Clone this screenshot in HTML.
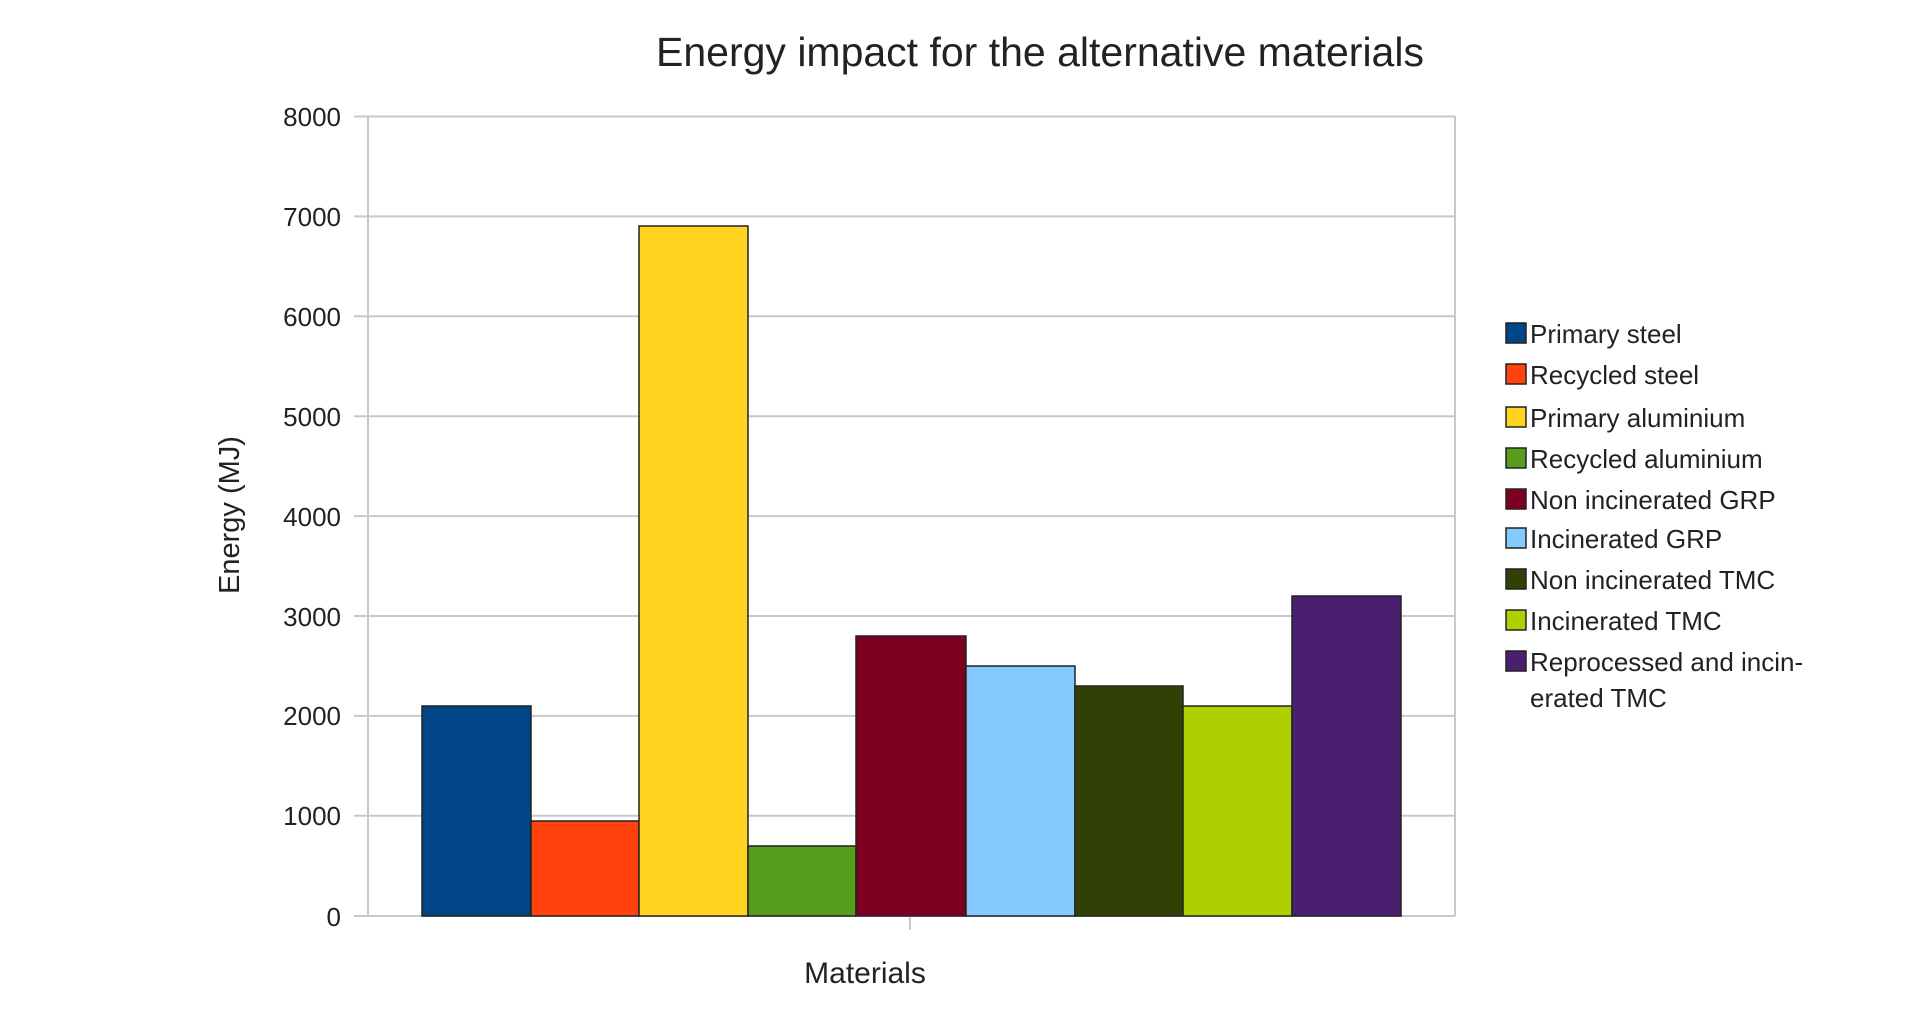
<!DOCTYPE html>
<html><head><style>body{margin:0;background:#fff}</style></head><body>
<svg width="1922" height="1028" xmlns="http://www.w3.org/2000/svg" font-family="Liberation Sans, sans-serif">
<rect width="1922" height="1028" fill="#fff"/>
<text x="1040" y="66" font-size="41" text-anchor="middle" fill="#222">Energy impact for the alternative materials</text>
<g stroke="#c8c8c8" stroke-width="2">
<line x1="354" y1="116.5" x2="1455" y2="116.5"/><line x1="354" y1="216.4" x2="1455" y2="216.4"/>
<line x1="354" y1="316.3" x2="1455" y2="316.3"/><line x1="354" y1="416.2" x2="1455" y2="416.2"/>
<line x1="354" y1="516.1" x2="1455" y2="516.1"/><line x1="354" y1="616" x2="1455" y2="616"/>
<line x1="354" y1="715.9" x2="1455" y2="715.9"/><line x1="354" y1="815.8" x2="1455" y2="815.8"/>
<line x1="354" y1="916" x2="1455" y2="916"/>
<line x1="368" y1="116" x2="368" y2="916"/><line x1="1455" y1="116" x2="1455" y2="916"/>
<line x1="910" y1="916" x2="910" y2="930"/>
</g>
<g font-size="26" fill="#222" text-anchor="end">
<text x="341" y="126">8000</text><text x="341" y="226">7000</text><text x="341" y="326">6000</text>
<text x="341" y="426">5000</text><text x="341" y="526">4000</text><text x="341" y="626">3000</text>
<text x="341" y="725">2000</text><text x="341" y="825">1000</text><text x="341" y="926">0</text>
</g>
<g stroke="#222" stroke-width="1.5">
<rect x="422" y="706" width="109" height="210" fill="#004586"/>
<rect x="531" y="821" width="108" height="95" fill="#ff420e"/>
<rect x="639" y="226" width="109" height="690" fill="#ffd320"/>
<rect x="748" y="846" width="108" height="70" fill="#579d1c"/>
<rect x="856" y="636" width="110" height="280" fill="#7e0021"/>
<rect x="966" y="666" width="109" height="250" fill="#83caff"/>
<rect x="1075" y="686" width="108" height="230" fill="#314004"/>
<rect x="1183" y="706" width="109" height="210" fill="#aecf00"/>
<rect x="1292" y="596" width="109" height="320" fill="#4b1f6f"/>
</g>
<text x="865" y="983" font-size="30" text-anchor="middle" fill="#222">Materials</text>
<text transform="translate(239,515) rotate(-90)" font-size="29" text-anchor="middle" fill="#222">Energy (MJ)</text>
<g stroke="#222" stroke-width="1.5">
<rect x="1506" y="323" width="20" height="20" fill="#004586"/>
<rect x="1506" y="364" width="20" height="20" fill="#ff420e"/>
<rect x="1506" y="407" width="20" height="20" fill="#ffd320"/>
<rect x="1506" y="448" width="20" height="20" fill="#579d1c"/>
<rect x="1506" y="489" width="20" height="20" fill="#7e0021"/>
<rect x="1506" y="528" width="20" height="20" fill="#83caff"/>
<rect x="1506" y="569" width="20" height="20" fill="#314004"/>
<rect x="1506" y="610" width="20" height="20" fill="#aecf00"/>
<rect x="1506" y="651" width="20" height="20" fill="#4b1f6f"/>
</g>
<g font-size="26" fill="#222">
<text x="1530" y="343">Primary steel</text>
<text x="1530" y="384">Recycled steel</text>
<text x="1530" y="427">Primary aluminium</text>
<text x="1530" y="468">Recycled aluminium</text>
<text x="1530" y="509">Non incinerated GRP</text>
<text x="1530" y="548">Incinerated GRP</text>
<text x="1530" y="589">Non incinerated TMC</text>
<text x="1530" y="630">Incinerated TMC</text>
<text x="1530" y="671">Reprocessed and incin-</text>
<text x="1530" y="707">erated TMC</text>
</g>
</svg>
</body></html>
